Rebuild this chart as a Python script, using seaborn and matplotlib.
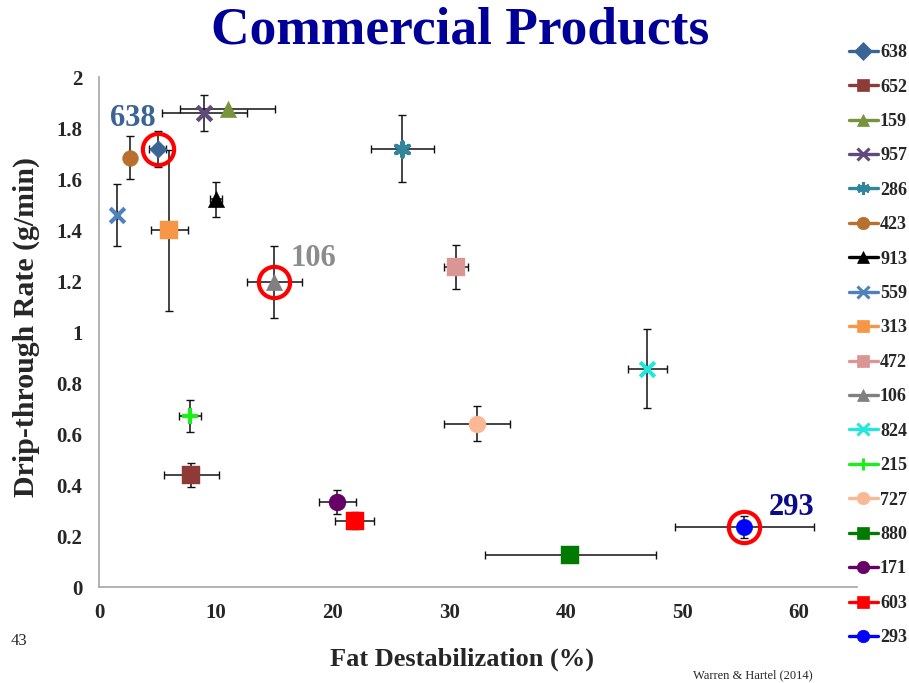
import matplotlib
matplotlib.use("Agg")
import matplotlib.pyplot as plt
from matplotlib.lines import Line2D
import seaborn as sns
import pandas as pd

# Product codes, in legend order
products = ["638", "652", "159", "957", "286", "423", "913", "559", "313",
            "472", "106", "824", "215", "727", "880", "171", "603", "293"]
# Fat destabilization (%) and drip-through rate (g/min)
fat_destab = [5.0, 7.9, 11.0, 9.0, 26.0, 2.6, 10.0, 1.5, 6.0,
              30.6, 15.0, 47.0, 7.8, 32.4, 40.4, 20.4, 21.9, 55.3]
drip_rate = [1.72, 0.44, 1.875, 1.86, 1.72, 1.685, 1.522, 1.46, 1.40,
             1.255, 1.198, 0.857, 0.672, 0.642, 0.127, 0.335, 0.261, 0.237]
# Standard deviations
fat_sd = [0.7, 2.33, 4.05, 3.65, 2.7, 0.0, 0.5, 0.0, 1.6,
          1.0, 2.35, 1.68, 0.96, 2.83, 7.3, 1.6, 1.65, 5.96]
drip_sd = [0.07, 0.047, 0.0, 0.07, 0.131, 0.083, 0.068, 0.122, 0.316,
           0.086, 0.14, 0.155, 0.063, 0.07, 0.0, 0.048, 0.033, 0.043]

colors = ["#3B6496", "#8E3B38", "#77933C", "#604A7B", "#31859C", "#B7702E",
          "#000000", "#4F81BD", "#F79646", "#D99694", "#808080", "#22E8DC",
          "#19F019", "#FAB894", "#007A00", "#660066", "#FF0000", "#0000FF"]
markers = ["D", "s", "^", "x", (6, 2, 0), "o", "^", "x", "s",
           "s", "^", "x", "+", "o", "s", "o", "s", "o"]
sizes = [80, 150, 140, 110, 110, 130, 140, 110, 150,
         150, 140, 110, 130, 150, 170, 150, 170, 140]

# Highlighted products and label offsets (points)
highlight = ["638", "106", "293"]
highlight_colors = {"638": "#3A6496", "106": "#8C8C8C", "293": "#0A0A8C"}
highlight_offsets = {"638": (-18, 22), "106": (28, 17), "293": (34, 14)}

df = pd.DataFrame({"product": products, "fat": fat_destab, "drip": drip_rate,
                   "fat_sd": fat_sd, "drip_sd": drip_sd})

sns.set_theme(style="white")
plt.rcParams["font.family"] = ["Liberation Serif", "DejaVu Serif"]

fig = plt.figure(figsize=(9.09, 6.83), dpi=100)
ax = fig.add_axes([0.1092, 0.1401, 0.8339, 0.7467])

# error bars
ax.errorbar(df["fat"], df["drip"], xerr=df["fat_sd"], yerr=df["drip_sd"],
            fmt="none", ecolor="#111111", elinewidth=1.1, capsize=2.8,
            capthick=1.0, zorder=2)

handles = []
for i, row in df.iterrows():
    m = markers[i]
    line_art = m in ("x", "+") or isinstance(m, tuple)
    sns.scatterplot(x=[row["fat"]], y=[row["drip"]], ax=ax, color=colors[i],
                    marker=m, s=sizes[i],
                    linewidth=3.0 if line_art else 0.3,
                    edgecolor=colors[i], zorder=3, legend=False)
    handles.append(Line2D([], [], color=colors[i], lw=2.4, marker=m,
                          markersize=9,
                          markeredgewidth=2.2 if line_art else 0.5,
                          markeredgecolor=colors[i], label=row["product"]))

# red rings and labels for highlighted products
for p in highlight:
    r = df[df["product"] == p].iloc[0]
    ax.plot(r["fat"], r["drip"], marker="o", markersize=22.5,
            markerfacecolor="none", markeredgecolor="#FF0000",
            markeredgewidth=3.0, zorder=4)
    ax.annotate(p, (r["fat"], r["drip"]), xytext=highlight_offsets[p],
                textcoords="offset points", ha="center", va="center",
                fontsize=22, fontweight="bold", color=highlight_colors[p])

ax.set_xlim(0, 65)
ax.set_ylim(0, 2)
ax.set_xticks([0, 10, 20, 30, 40, 50, 60])
ax.set_yticks([0, 0.2, 0.4, 0.6, 0.8, 1.0, 1.2, 1.4, 1.6, 1.8, 2.0])
ax.set_yticklabels(["0", "0.2", "0.4", "0.6", "0.8", "1", "1.2", "1.4",
                    "1.6", "1.8", "2"])
for s in ["top", "right"]:
    ax.spines[s].set_visible(False)
for s in ["left", "bottom"]:
    ax.spines[s].set_color("#A6A6A6")
    ax.spines[s].set_linewidth(1.2)
ax.tick_params(axis="both", direction="out", length=5, width=1.0,
               color="#A6A6A6", labelsize=15, pad=6)
for lab in ax.get_xticklabels() + ax.get_yticklabels():
    lab.set_fontweight("bold")
ax.tick_params(axis="y", pad=7)

ax.set_xlabel("Fat Destabilization (%)", fontsize=19, fontweight="bold")
ax.xaxis.set_label_coords(0.478, -0.118)
ax.set_ylabel("Drip-through Rate (g/min)", fontsize=21.5, fontweight="bold")
ax.yaxis.set_label_coords(-0.078, 0.51)

fig.text(0.506, 0.955, "Commercial Products", ha="center", va="center",
         fontsize=38.5, fontweight="bold", color="#000099")
fig.text(0.012, 0.062, "43", ha="left", va="center", fontsize=12)
fig.text(0.762, 0.012, "Warren & Hartel (2014)", ha="left", va="center",
         fontsize=9)

fig.legend(handles=handles, loc="upper left", bbox_to_anchor=(0.926, 0.946),
           frameon=False, prop={"weight": "bold", "size": 13},
           handlelength=1.6, handletextpad=0.12, labelspacing=0.965,
           borderaxespad=0)

fig.savefig("out.png", dpi=100)
